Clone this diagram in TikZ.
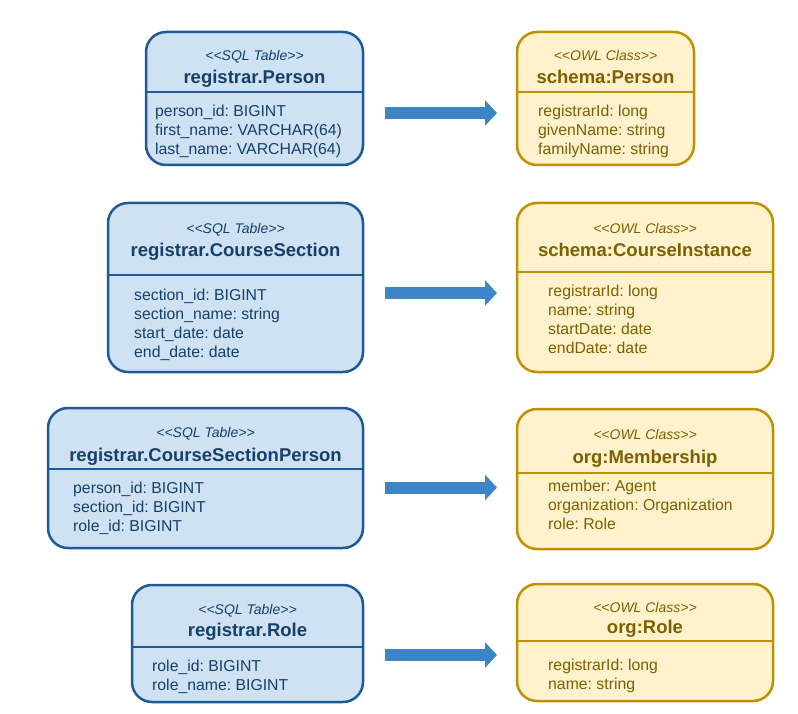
\documentclass[tikz,border=0pt]{standalone}
\usepackage{fontspec}
\setmainfont{Liberation Sans}
\frenchspacing
\usetikzlibrary{arrows.meta,positioning}
\definecolor{sqlfill}{HTML}{CFE2F3}
\definecolor{sqlline}{HTML}{1F5A96}
\definecolor{sqltext}{HTML}{173F6B}
\definecolor{owlfill}{HTML}{FFF2CC}
\definecolor{owlline}{HTML}{BF9000}
\definecolor{owltext}{HTML}{7F6000}
\definecolor{mapblue}{HTML}{3D85C6}

\begin{document}
\begin{tikzpicture}[x=1pt,y=-1pt,
        table/.style={draw=sqlline,fill=sqlfill,line width=2.5pt,rounded corners=20pt,inner sep=0pt,outer sep=0pt},
        owl/.style={draw=owlline,fill=owlfill,line width=2.5pt,rounded corners=20pt,inner sep=0pt,outer sep=0pt},
        stereo/.style={font=\fontsize{14}{16}\selectfont\itshape,anchor=base,inner sep=0pt},
        title/.style={font=\fontsize{18.5}{22}\selectfont\bfseries,anchor=base,inner sep=0pt},
        attrs/.style={font=\fontsize{15.8}{19}\selectfont,align=left,anchor=north west,inner sep=0pt},
        sqlrule/.style={draw=sqlline,line width=1.5pt},
        owlrule/.style={draw=owlline,line width=1.5pt},
        map/.style={draw=mapblue,line width=12pt,-{Triangle[length=12pt,width=25pt]}}]
   \useasboundingbox (0,0) rectangle (798,714);

   % registrar.Person -> schema:Person
   \node (S1) [table,minimum width=217pt,minimum height=133pt] at (254.5,98.5) {};
   \node (S1s) [stereo,text=sqltext] at ([yshift=-29pt]S1.north) {<\kern0pt<SQL Table>\kern0pt>};
   \node (S1n) [title,text=sqltext] at ([yshift=-52pt]S1.north) {registrar.Person};
   \draw[sqlrule] ([yshift=-60pt]S1.north west) -- ([yshift=-60pt]S1.north east);
   \node (S1a) [attrs,text=sqltext] at ([xshift=9pt,yshift=-72.5pt]S1.north west)
      {person\_id: BIGINT\\first\_name: VARCHAR(64)\\last\_name: VARCHAR(64)};

   \node (O1) [owl,minimum width=177pt,minimum height=133pt] at (605.5,98.5) {};
   \node (O1s) [stereo,text=owltext] at ([yshift=-29pt]O1.north) {<\kern0pt<OWL Class>\kern0pt>};
   \node (O1n) [title,text=owltext] at ([yshift=-52pt]O1.north) {schema:Person};
   \draw[owlrule] ([yshift=-60pt]O1.north west) -- ([yshift=-60pt]O1.north east);
   \node (O1a) [attrs,text=owltext] at ([xshift=21pt,yshift=-72.5pt]O1.north west)
      {registrarId: long\\givenName: string\\familyName: string};

   \coordinate (M1) at (385,113);
   \coordinate (N1) at (497,113);
   \draw[map] (M1) -- (N1);

   % registrar.CourseSection -> schema:CourseInstance
   \node (S2) [table,minimum width=255pt,minimum height=169pt] at (235.5,287.5) {};
   \node (S2s) [stereo,text=sqltext] at ([yshift=-31pt]S2.north) {<\kern0pt<SQL Table>\kern0pt>};
   \node (S2n) [title,text=sqltext] at ([yshift=-54pt]S2.north) {registrar.CourseSection};
   \draw[sqlrule] ([yshift=-72pt]S2.north west) -- ([yshift=-72pt]S2.north east);
   \node (S2a) [attrs,text=sqltext] at ([xshift=26pt,yshift=-85.5pt]S2.north west)
      {section\_id: BIGINT\\section\_name: string\\start\_date: date\\end\_date: date};

   \node (O2) [owl,minimum width=256pt,minimum height=169pt] at (645,287.5) {};
   \node (O2s) [stereo,text=owltext] at ([yshift=-31pt]O2.north) {<\kern0pt<OWL Class>\kern0pt>};
   \node (O2n) [title,text=owltext] at ([yshift=-54pt]O2.north) {schema:CourseInstance};
   \draw[owlrule] ([yshift=-69pt]O2.north west) -- ([yshift=-69pt]O2.north east);
   \node (O2a) [attrs,text=owltext] at ([xshift=31pt,yshift=-81.5pt]O2.north west)
      {registrarId: long\\name: string\\startDate: date\\endDate: date};

   \coordinate (M2) at (385,293);
   \coordinate (N2) at (497,293);
   \draw[map] (M2) -- (N2);

   % registrar.CourseSectionPerson -> org:Membership
   \node (S3) [table,minimum width=315pt,minimum height=140pt] at (205.5,478) {};
   \node (S3s) [stereo,text=sqltext] at ([yshift=-29pt]S3.north) {<\kern0pt<SQL Table>\kern0pt>};
   \node (S3n) [title,text=sqltext] at ([yshift=-53pt]S3.north) {registrar.CourseSectionPerson};
   \draw[sqlrule] ([yshift=-61pt]S3.north west) -- ([yshift=-61pt]S3.north east);
   \node (S3a) [attrs,text=sqltext] at ([xshift=25pt,yshift=-73.5pt]S3.north west)
      {person\_id: BIGINT\\section\_id: BIGINT\\role\_id: BIGINT};

   \node (O3) [owl,minimum width=256pt,minimum height=140pt] at (645,479) {};
   \node (O3s) [stereo,text=owltext] at ([yshift=-30pt]O3.north) {<\kern0pt<OWL Class>\kern0pt>};
   \node (O3n) [title,text=owltext] at ([yshift=-54pt]O3.north) {org:Membership};
   \draw[owlrule] ([yshift=-64pt]O3.north west) -- ([yshift=-64pt]O3.north east);
   \node (O3a) [attrs,text=owltext] at ([xshift=31pt,yshift=-70.5pt]O3.north west)
      {member: Agent\\organization: Organization\\role: Role};

   \coordinate (M3) at (385,487.5);
   \coordinate (N3) at (497,487.5);
   \draw[map] (M3) -- (N3);

   % registrar.Role -> org:Role
   \node (S4) [table,minimum width=231pt,minimum height=117pt] at (247.5,643.5) {};
   \node (S4s) [stereo,text=sqltext] at ([yshift=-29pt]S4.north) {<\kern0pt<SQL Table>\kern0pt>};
   \node (S4n) [title,text=sqltext] at ([yshift=-51pt]S4.north) {registrar.Role};
   \draw[sqlrule] ([yshift=-62pt]S4.north west) -- ([yshift=-62pt]S4.north east);
   \node (S4a) [attrs,text=sqltext] at ([xshift=20pt,yshift=-74.5pt]S4.north west)
      {role\_id: BIGINT\\role\_name: BIGINT};

   \node (O4) [owl,minimum width=256pt,minimum height=117pt] at (645,642.5) {};
   \node (O4s) [stereo,text=owltext] at ([yshift=-28pt]O4.north) {<\kern0pt<OWL Class>\kern0pt>};
   \node (O4n) [title,text=owltext] at ([yshift=-49pt]O4.north) {org:Role};
   \draw[owlrule] ([yshift=-57pt]O4.north west) -- ([yshift=-57pt]O4.north east);
   \node (O4a) [attrs,text=owltext] at ([xshift=31pt,yshift=-74.5pt]O4.north west)
      {registrarId: long\\name: string};

   \coordinate (M4) at (385,655);
   \coordinate (N4) at (497,655);
   \draw[map] (M4) -- (N4);

\end{tikzpicture}
\end{document}
